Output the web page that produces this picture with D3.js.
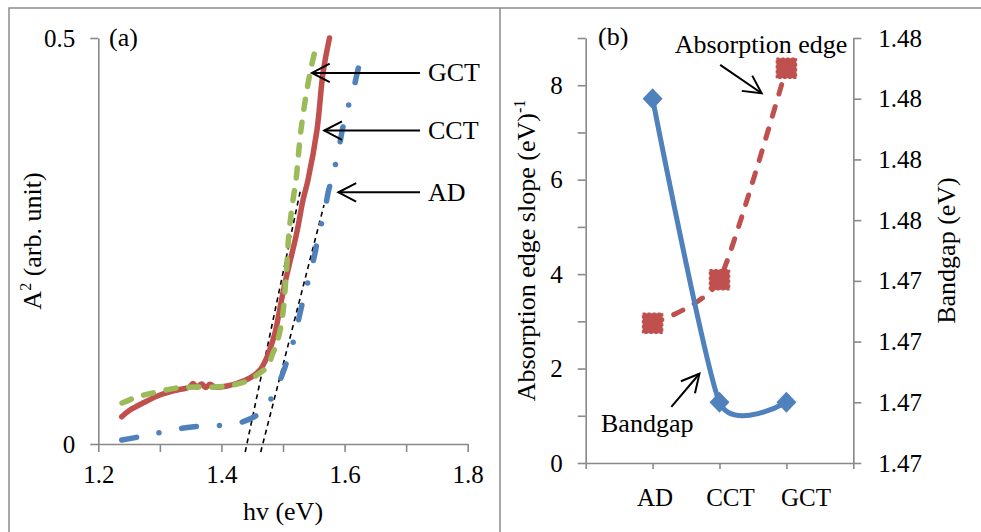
<!DOCTYPE html>
<html>
<head>
<meta charset="utf-8">
<script src="https://cdn.jsdelivr.net/npm/d3@7/dist/d3.min.js"></script>
<style>
body { margin: 0; background: #fff; }
svg text { font-family: 'Liberation Serif', 'DejaVu Serif'; fill: #000; }
.axis path, .axis line { stroke: #898989; stroke-width: 1.6; }
.axis text { font-size: 25px; font-family: 'Liberation Serif', 'DejaVu Serif'; }
</style>
</head>
<body>
<svg id="chart" width="981" height="532"></svg>
<script>
// ---- panel (a) : A^2 vs hv ----
var gctHv = [1.2385, 1.2629, 1.2953, 1.3278, 1.3603, 1.3928, 1.4188, 1.4415, 1.4578, 1.4740, 1.4838, 1.4902, 1.4984, 1.5049, 1.5097, 1.5162, 1.5211, 1.5292, 1.5438, 1.5552];
var gctA2 = [0.0505, 0.0579, 0.0640, 0.0690, 0.0702, 0.0702, 0.0727, 0.0776, 0.0850, 0.0948, 0.1121, 0.1244, 0.1527, 0.2057, 0.2599, 0.3005, 0.3251, 0.3867, 0.4569, 0.4938];

var cctHv = [1.2380, 1.2515, 1.2726, 1.3002, 1.3278, 1.3480, 1.3538, 1.3600, 1.3680, 1.3740, 1.3814, 1.3900, 1.4090, 1.4269, 1.4464, 1.4626, 1.4740, 1.4821, 1.4870, 1.5032, 1.5222, 1.5325, 1.5406, 1.5552, 1.5650, 1.5755];
var cctA2 = [0.0336, 0.0419, 0.0505, 0.0603, 0.0665, 0.0700, 0.0745, 0.0700, 0.0740, 0.0695, 0.0735, 0.0700, 0.0714, 0.0751, 0.0813, 0.0911, 0.1071, 0.1244, 0.1367, 0.1983, 0.2595, 0.3005, 0.3251, 0.3867, 0.4569, 0.5000];

var adHv = [1.2380, 1.2677, 1.3013, 1.3355, 1.3679, 1.4020, 1.4355, 1.4626, 1.4842, 1.5016, 1.5086, 1.5195, 1.5276, 1.5341, 1.5438, 1.5520, 1.5573, 1.5671, 1.5736, 1.5817, 1.5898, 1.5969, 1.6034, 1.6142, 1.6223, 1.6304];
var adA2 = [0.0049, 0.0090, 0.0144, 0.0193, 0.0222, 0.0230, 0.0275, 0.0385, 0.0603, 0.0911, 0.1075, 0.1330, 0.1610, 0.1814, 0.2094, 0.2349, 0.2574, 0.2841, 0.3107, 0.3334, 0.3600, 0.3888, 0.4092, 0.4360, 0.4627, 0.4852];

// linear fits to the absorption edge
var fit1Hv = [1.4386, 1.5284];
var fit1A2 = [-0.0099, 0.3128];
var fit2Hv = [1.4638, 1.5666];
var fit2A2 = [-0.0099, 0.2943];

var hvTicks = [1.2, 1.3, 1.4, 1.5, 1.6, 1.7, 1.8];
var a2Ticks = [0, 0.5];

// arrows pointing at the curves
var curveNames = ["GCT", "CCT", "AD"];
var curveArrowY = [0.457, 0.386, 0.310];
var curveArrowTip = [1.547, 1.567, 1.590];

// ---- panel (b) : slope and bandgap per sample ----
var samples = ["AD", "CCT", "GCT"];
var edgeSlope = [2.96, 3.88, 8.36];
var bandgap = [1.480, 1.470, 1.470];
var slopeTicks = [0, 1, 2, 3, 4, 5, 6, 7, 8, 9];
var gapTicks = [1.468, 1.470, 1.472, 1.474, 1.476, 1.478, 1.480, 1.482];

var blue = "#4F81BD", red = "#C0504D", green = "#9BBB59";

var svg = d3.select("#chart");

// frame around the two panels
svg.append("path")
    .attr("d", "M9,532V8H981M500,8V532")
    .attr("fill", "none")
    .attr("stroke", "#8c8c8c")
    .attr("stroke-width", 1.5);

// arrow head helper (open V)
function arrow(g, x1, y1, x2, y2) {
    var a = Math.atan2(y2 - y1, x2 - x1), len = 20, sp = 0.48;
    g.append("line").attr("x1", x1).attr("y1", y1).attr("x2", x2).attr("y2", y2);
    g.append("path").attr("d",
        "M" + (x2 - len * Math.cos(a - sp)) + "," + (y2 - len * Math.sin(a - sp)) +
        "L" + x2 + "," + y2 +
        "L" + (x2 - len * Math.cos(a + sp)) + "," + (y2 - len * Math.sin(a + sp)));
}

// ================= panel (a) =================
var xA = d3.scaleLinear().domain([1.2, 1.8]).range([98.3, 467.7]);
var yA = d3.scaleLinear().domain([0, 0.5]).range([444, 38]);

svg.append("g").attr("class", "axis")
    .attr("transform", "translate(0,444)")
    .call(d3.axisBottom(xA).tickValues(hvTicks).tickSize(8).tickSizeOuter(0).tickPadding(13)
        .tickFormat(function(d, i) { return i % 2 ? "" : d.toFixed(1); }));

svg.append("g").attr("class", "axis")
    .attr("transform", "translate(98.3,0)")
    .call(d3.axisLeft(yA).tickValues(a2Ticks).tickSize(8).tickSizeOuter(0).tickPadding(15)
        .tickFormat(function(d) { return d === 0 ? "0" : "0.5"; }));

var lineA = d3.line()
    .x(function(d) { return xA(d[0]); })
    .y(function(d) { return yA(d[1]); })
    .curve(d3.curveCatmullRom);

// fit lines
[[fit1Hv, fit1A2], [fit2Hv, fit2A2]].forEach(function(f) {
    svg.append("path")
        .attr("d", d3.line()(f[0].map(function(v, i) { return [xA(v), yA(f[1][i])]; })))
        .attr("fill", "none")
        .attr("stroke", "#000")
        .attr("stroke-width", 1.6)
        .attr("stroke-dasharray", "5,4");
});

svg.append("path")
    .attr("d", lineA(adHv.map(function(v, i) { return [v, adA2[i]]; })))
    .attr("fill", "none").attr("stroke", blue).attr("stroke-width", 5.5)
    .attr("stroke-linecap", "round")
    .attr("stroke-dasharray", "15,23,0,23");

svg.append("path")
    .attr("d", lineA(cctHv.map(function(v, i) { return [v, cctA2[i]]; })))
    .attr("fill", "none").attr("stroke", red).attr("stroke-width", 5.5)
    .attr("stroke-linecap", "round");

svg.append("path")
    .attr("d", lineA(gctHv.map(function(v, i) { return [v, gctA2[i]]; })))
    .attr("fill", "none").attr("stroke", green).attr("stroke-width", 5.5)
    .attr("stroke-linecap", "round")
    .attr("stroke-dasharray", "10,13");

var annA = svg.append("g").attr("fill", "none").attr("stroke", "#000").attr("stroke-width", 2);
curveNames.forEach(function(n, i) {
    arrow(annA, xA(1.7225), yA(curveArrowY[i]), xA(curveArrowTip[i]), yA(curveArrowY[i]));
    svg.append("text")
        .attr("x", xA(1.7355)).attr("y", yA(curveArrowY[i]))
        .attr("dominant-baseline", "central")
        .attr("font-size", 26)
        .text(n);
});

svg.append("text").attr("x", 109).attr("y", 37)
    .attr("dominant-baseline", "central").attr("font-size", 26).text("(a)");

svg.append("text").attr("x", xA(1.5)).attr("y", 520)
    .attr("text-anchor", "middle").attr("font-size", 26).text("hv (eV)");

var ylabA = svg.append("text")
    .attr("transform", "translate(41," + yA(0.25) + ") rotate(-90)")
    .attr("text-anchor", "middle").attr("font-size", 26);
ylabA.append("tspan").text("A");
ylabA.append("tspan").attr("font-size", 16).attr("dy", -10).text("2");
ylabA.append("tspan").attr("dy", 10).text(" (arb. unit)");

// ================= panel (b) =================
var xB = d3.scalePoint().domain(samples).range([585.7, 853.3]).padding(1);
// category labels sit a little right of their ticks in the original
var xLab = d3.scalePoint().domain(samples).range([655, 806]);
var yB = d3.scaleLinear().domain([0, 9]).range([463, 38]);
var yB2 = d3.scaleLinear().domain([1.468, 1.482]).range([463, 38]);

svg.append("g").attr("class", "axis")
    .attr("transform", "translate(0,463)")
    .call(d3.axisBottom(xB).tickSize(6).tickSizeOuter(6).tickFormat(""));

svg.selectAll(".catlab").data(samples).enter().append("text")
    .attr("x", function(d) { return xLab(d); })
    .attr("y", 497)
    .attr("text-anchor", "middle").attr("dominant-baseline", "central")
    .attr("font-size", 25)
    .text(function(d) { return d; });

svg.append("g").attr("class", "axis")
    .attr("transform", "translate(585.7,0)")
    .call(d3.axisLeft(yB).tickValues(slopeTicks).tickSize(8).tickSizeOuter(0).tickPadding(15)
        .tickFormat(function(d) { return (d % 2 === 0) ? d : ""; }));

svg.append("g").attr("class", "axis")
    .attr("transform", "translate(853.3,0)")
    .call(d3.axisRight(yB2).tickValues(gapTicks).tickSize(8).tickSizeOuter(0).tickPadding(17)
        .tickFormat(d3.format(".2f")));

// absorption edge slope (left axis)
var slopeLine = d3.line()
    .x(function(d, i) { return xB(samples[i]); })
    .y(function(d) { return yB(d); })
    .curve(d3.curveCardinal.tension(0.4));

svg.append("path")
    .attr("d", slopeLine(edgeSlope))
    .attr("fill", "none").attr("stroke", red).attr("stroke-width", 5)
    .attr("stroke-linecap", "round")
    .attr("stroke-dasharray", "10,13");

svg.selectAll(".sq").data(edgeSlope).enter().append("rect")
    .attr("x", function(d, i) { return xB(samples[i]) - 10; })
    .attr("y", function(d) { return yB(d) - 10; })
    .attr("width", 20).attr("height", 20)
    .attr("fill", red)
    .attr("stroke", red).attr("stroke-width", 1.5)
    .attr("stroke-dasharray", "3,2");

// bandgap (right axis)
var gapLine = d3.line()
    .x(function(d, i) { return xB(samples[i]); })
    .y(function(d) { return yB2(d); })
    .curve(d3.curveCardinal.tension(0.4));

svg.append("path")
    .attr("d", gapLine(bandgap))
    .attr("fill", "none").attr("stroke", blue).attr("stroke-width", 5)
    .attr("stroke-linecap", "round");

svg.selectAll(".dia").data(bandgap).enter().append("path")
    .attr("transform", function(d, i) { return "translate(" + xB(samples[i]) + "," + yB2(d) + ")"; })
    .attr("d", "M0,-10.5L10,0L0,10.5L-10,0Z")
    .attr("fill", blue);

// annotations
var stepB = xB.step();
var annB = svg.append("g").attr("fill", "none").attr("stroke", "#000").attr("stroke-width", 2);
arrow(annB, xB("CCT") + 0.01 * stepB, yB(8.43), xB("CCT") + 0.63 * stepB, yB(7.83));
arrow(annB, xB("AD") + 0.28 * stepB, yB(1.19), xB("AD") + 0.70 * stepB, yB(1.89));

svg.append("text").attr("x", xB("CCT") + 0.62 * stepB).attr("y", yB(8.86))
    .attr("text-anchor", "middle").attr("dominant-baseline", "central")
    .attr("font-size", 26).text("Absorption edge");
svg.append("text").attr("x", xB("AD") - 0.08 * stepB).attr("y", yB(0.83))
    .attr("text-anchor", "middle").attr("dominant-baseline", "central")
    .attr("font-size", 26).text("Bandgap");

svg.append("text").attr("x", 598).attr("y", 36)
    .attr("dominant-baseline", "central").attr("font-size", 26).text("(b)");

var ylabB = svg.append("text")
    .attr("transform", "translate(535," + yB(4.5) + ") rotate(-90)")
    .attr("text-anchor", "middle").attr("font-size", 26);
ylabB.append("tspan").text("Absorption edge slope (eV)");
ylabB.append("tspan").attr("font-size", 16).attr("dy", -10).text("-1");

svg.append("text")
    .attr("transform", "translate(955," + yB(4.5) + ") rotate(-90)")
    .attr("text-anchor", "middle").attr("font-size", 26)
    .text("Bandgap (eV)");
</script>
</body>
</html>
